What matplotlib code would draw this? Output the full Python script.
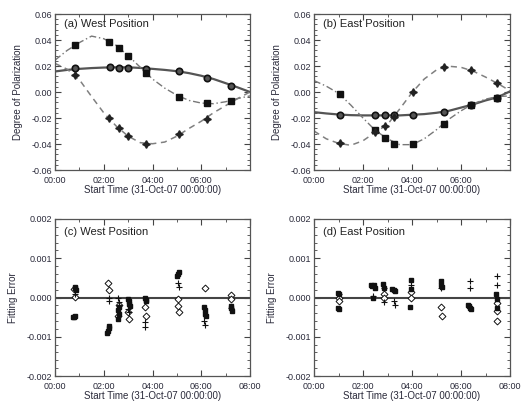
import matplotlib
matplotlib.use("Agg")
import matplotlib.pyplot as plt
from matplotlib.ticker import MultipleLocator

plt.rcParams['font.family'] = ['Liberation Sans', 'DejaVu Sans']

# ---------------- data ----------------
curve_t = [0, 0.5, 1, 1.5, 2, 2.5, 3, 3.5, 4, 4.5, 5, 5.5, 6, 6.5, 7, 7.5, 8]

# panel (a) West - fitted curves
a_solid = [0.0158, 0.017, 0.0178, 0.0184, 0.0188, 0.019, 0.019, 0.0185, 0.0178, 0.017, 0.016,
           0.0145, 0.0125, 0.010, 0.0068, 0.0035, 0.0]
a_dashdot = [0.0245, 0.032, 0.038, 0.043, 0.041, 0.036, 0.028, 0.019, 0.010, 0.003, -0.0025,
             -0.0065, -0.0085, -0.009, -0.0075, -0.005, -0.003]
a_dashed = [0.022, 0.0175, 0.0095, -0.0035, -0.016, -0.026, -0.034, -0.039, -0.0398, -0.0385,
            -0.034, -0.028, -0.0225, -0.016, -0.0105, -0.005, 0.0]
# panel (a) measured points
a_circ_t = [0.82, 2.25, 2.62, 3.0, 3.72, 5.08, 6.22, 7.24]
a_circ_v = [0.0183, 0.019, 0.0188, 0.0188, 0.018, 0.0158, 0.011, 0.005]
a_sq_t = [0.82, 2.2, 2.62, 3.0, 3.72, 5.08, 6.22, 7.24]
a_sq_v = [0.0358, 0.0388, 0.034, 0.0275, 0.0145, -0.0038, -0.0085, -0.0068]
a_st_t = [0.82, 2.2, 2.62, 3.0, 3.72, 5.08, 6.22]
a_st_v = [0.0133, -0.020, -0.028, -0.034, -0.040, -0.0325, -0.0205]

# panel (b) East - fitted curves
b_solid = [-0.0155, -0.0165, -0.0173, -0.0178, -0.018, -0.018, -0.018, -0.018, -0.0175, -0.017,
           -0.016, -0.0145, -0.012, -0.0095, -0.0065, -0.004, 0.0005]
b_dashdot = [0.0088, 0.0045, -0.001, -0.010, -0.020, -0.0295, -0.036, -0.0405, -0.0405, -0.036,
             -0.029, -0.021, -0.0145, -0.009, -0.0055, -0.0035, -0.003]
b_dashed = [-0.030, -0.036, -0.0395, -0.041, -0.0375, -0.031, -0.025, -0.013, -0.0005, 0.010,
            0.017, 0.0198, 0.019, 0.016, 0.0115, 0.0065, 0.001]
# panel (b) measured points
b_circ_t = [1.07, 2.5, 2.91, 3.28, 4.03, 5.3, 6.39, 7.46]
b_circ_v = [-0.0175, -0.018, -0.018, -0.018, -0.0175, -0.0155, -0.010, -0.0045]
b_sq_t = [1.07, 2.5, 2.91, 3.28, 4.03, 5.3, 6.39, 7.46]
b_sq_v = [-0.0013, -0.0295, -0.035, -0.040, -0.040, -0.0243, -0.010, -0.0045]
b_st_t = [1.07, 2.5, 2.91, 3.28, 4.03, 5.3, 6.39, 7.46]
b_st_v = [-0.0395, -0.031, -0.026, -0.019, 0.0, 0.0195, 0.017, 0.007]

# panel (c) West fitting errors
c_dia_t = [0.78, 0.82, 2.18, 2.22, 2.62, 2.6, 2.98, 3.02, 3.68, 3.74, 5.05, 5.05, 5.1, 6.15, 7.2, 7.22]
c_dia_v = [0.00021, 0.00002, 0.00037, 0.00019, -0.00018, -0.00048, -0.00036, -0.00054, -0.00023,
           -0.00048, -0.00004, -0.00022, -0.00036, 0.00025, 0.00006, -0.00005]
c_sq_t = [0.82, 0.84, 0.86, 0.72, 0.78, 0.84, 2.22, 2.2, 2.17, 2.15, 2.62, 2.6, 2.62, 2.58,
          3.0, 3.02, 3.04, 3.06, 3.7, 3.72, 3.74, 5.02, 5.05, 5.08, 6.12, 6.15, 6.17, 6.19,
          7.2, 7.23, 7.26]
c_sq_v = [0.00028, 0.00024, 0.00018, -0.00049, -0.0005, -0.00048, -0.00072, -0.00078, -0.00085,
          -0.0009, -0.00025, -0.00033, -0.00042, -0.00055, -0.00005, -0.0001, -0.00016, -0.00022,
          -0.00002, -0.00006, -0.0001, 0.00056, 0.0006, 0.00064, -0.00023, -0.00033, -0.00041,
          -0.00048, -0.00022, -0.00028, -0.00034]
c_pl_t = [0.8, 2.2, 2.22, 2.6, 2.62, 3.0, 3.02, 3.7, 3.7, 5.05, 5.07, 6.13, 6.15, 7.22]
c_pl_v = [0.0001, -0.00002, -0.0001, 0.0, -0.00012, -0.0003, -0.00038, -0.00062, -0.00076,
          0.00038, 0.00026, -0.0006, -0.0007, -0.00028]

# panel (d) East fitting errors
d_dia_t = [1.0, 1.02, 2.85, 2.87, 3.95, 3.97, 5.2, 5.22, 7.45, 7.45, 7.47]
d_dia_v = [0.0, -0.0001, 0.00008, 0.0, 0.00013, -0.00002, -0.00024, -0.00046, -0.00015,
           -0.00035, -0.0006]
d_sq_t = [0.98, 1.02, 0.98, 1.04, 2.33, 2.38, 2.43, 2.48, 2.42, 2.8, 2.84, 3.2, 3.25, 3.3,
          3.95, 3.97, 3.9, 5.18, 5.2, 5.24, 6.3, 6.34, 6.38, 6.42, 7.43, 7.45, 7.47]
d_sq_v = [0.00012, 0.00008, -0.00027, -0.00029, 0.00032, 0.0003, 0.00031, 0.00025, -0.00002,
          0.00035, 0.00025, 0.00022, 0.0002, 0.00016, 0.00045, 0.00022, -0.00023, 0.00042,
          0.00033, 0.00027, -0.00018, -0.00022, -0.00027, -0.0003, 0.00008, -0.00005, -0.00027]
d_pl_t = [1.0, 2.4, 2.85, 2.87, 3.27, 3.3, 3.95, 5.2, 6.35, 6.35, 7.45, 7.45]
d_pl_v = [0.0001, 0.00003, 0.00025, -0.00012, -0.0001, -0.00018, 0.00032, 0.00025, 0.00041,
          0.00024, 0.00055, 0.00031]

top_ticks = [0, 2, 4, 6]
top_ticklabels = ["00:00", "02:00", "04:00", "06:00"]
bot_ticks = [0, 2, 4, 6, 8]
bot_ticklabels = ["00:00", "02:00", "04:00", "06:00", "08:00"]
xlabel = "Start Time (31-Oct-07 00:00:00)"
titles = ["(a) West Position", "(b) East Position", "(c) West Position", "(d) East Position"]

# ---------------- figure ----------------
W, H = 521, 403
fig = plt.figure(figsize=(W / 100, H / 100), dpi=100)
txtc = '#2a2a3a'

def box(l, r, t, b):
    return [l / W, 1 - b / H, (r - l) / W, (b - t) / H]

axa = fig.add_axes(box(55, 250, 14, 170))
axb = fig.add_axes(box(314, 510, 14, 170))
axc = fig.add_axes(box(55, 250, 219, 376))
axd = fig.add_axes(box(314, 510, 219, 376))

def style(ax, ticks, labels, ymaj, ymin, ylim, fmt):
    ax.set_xlim(0, 8)
    ax.set_ylim(*ylim)
    ax.set_xticks(ticks)
    ax.set_xticklabels(labels)
    ax.xaxis.set_minor_locator(MultipleLocator(1))
    ax.yaxis.set_major_locator(MultipleLocator(ymaj))
    ax.yaxis.set_minor_locator(MultipleLocator(ymin))
    ax.yaxis.set_major_formatter(matplotlib.ticker.FormatStrFormatter(fmt))
    ax.tick_params(which='both', direction='in', top=True, right=True, colors='#444444',
                   labelcolor=txtc, labelsize=6.5)
    ax.tick_params(axis='x', pad=4)
    ax.tick_params(axis='y', pad=2)
    ax.tick_params(which='major', length=4, width=0.8)
    ax.tick_params(which='minor', length=2, width=0.6)
    for s in ax.spines.values():
        s.set_color('#555555')
        s.set_linewidth(0.9)
    ax.set_xlabel(xlabel, fontsize=7, color=txtc, labelpad=0)

def top_panel(ax, title, solid, dashdot, dashed, ct, cv, st, sv, pt, pv):
    ax.plot(curve_t, solid, '-', color='#555555', lw=1.6, zorder=2)
    ax.plot(curve_t, dashdot, linestyle=(0, (5, 2, 1, 2)), color='#777777', lw=1.0, zorder=2)
    ax.plot(curve_t, dashed, linestyle=(0, (4, 3)), color='#808080', lw=1.1, zorder=2)
    ax.plot(ct, cv, 'o', ls='none', ms=4.6, mfc='#555555', mec='#111111', mew=1.2, zorder=3)
    ax.plot(st, sv, 's', ls='none', ms=4.2, mfc='#111111', mec='#111111', zorder=3)
    ax.plot(pt, pv, marker=(4, 1, 0), ls='none', ms=5.5, mfc='#222222', mec='#222222', zorder=3)
    style(ax, top_ticks, top_ticklabels, 0.02, 0.004, (-0.06, 0.06), '%.2f')
    ax.set_ylabel("Degree of Polarization", fontsize=7, color=txtc, labelpad=6)
    ax.text(0.045, 0.935, title, transform=ax.transAxes, fontsize=8, color='#222222',
            va='center', ha='left')

def bot_panel(ax, title, dt, dv, qt, qv, pt, pv):
    ax.axhline(0, color='#444444', lw=1.5, zorder=1)
    ax.plot(dt, dv, 'D', ls='none', ms=3.5, mfc='white', mec='#111111', mew=0.7, zorder=3)
    ax.plot(qt, qv, 's', ls='none', ms=3, mfc='#111111', mec='#111111', zorder=3)
    ax.plot(pt, pv, '+', ls='none', ms=4.5, mec='#111111', mew=0.8, zorder=3)
    style(ax, bot_ticks, bot_ticklabels, 0.001, 0.0002, (-0.002, 0.002), '%.3f')
    ax.set_ylabel("Fitting Error", fontsize=7, color=txtc, labelpad=6)
    ax.text(0.045, 0.92, title, transform=ax.transAxes, fontsize=8, color='#222222',
            va='center', ha='left')

top_panel(axa, titles[0], a_solid, a_dashdot, a_dashed, a_circ_t, a_circ_v, a_sq_t, a_sq_v,
          a_st_t, a_st_v)
top_panel(axb, titles[1], b_solid, b_dashdot, b_dashed, b_circ_t, b_circ_v, b_sq_t, b_sq_v,
          b_st_t, b_st_v)
bot_panel(axc, titles[2], c_dia_t, c_dia_v, c_sq_t, c_sq_v, c_pl_t, c_pl_v)
bot_panel(axd, titles[3], d_dia_t, d_dia_v, d_sq_t, d_sq_v, d_pl_t, d_pl_v)

fig.savefig("out.png", dpi=100)
